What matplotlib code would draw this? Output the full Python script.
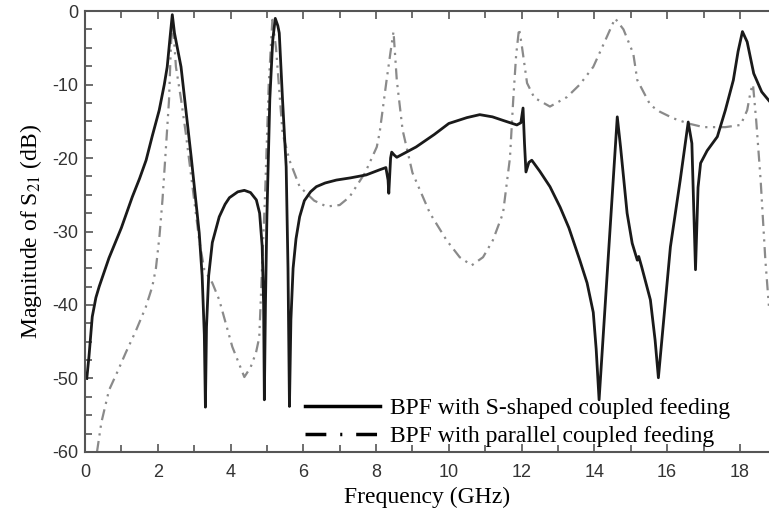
import matplotlib
matplotlib.use('Agg')
import matplotlib.pyplot as plt
from matplotlib.lines import Line2D
from matplotlib.ticker import MultipleLocator

# S-shaped coupled feeding (solid)
s_freq = [0.05, 0.11, 0.2, 0.3, 0.39, 0.66, 1.0, 1.3, 1.5, 1.68, 1.85, 2.04, 2.18, 2.26,
          2.34, 2.4, 2.46, 2.64, 2.92, 3.14, 3.22, 3.28, 3.31, 3.34, 3.4, 3.5, 3.69, 3.85,
          3.97, 4.2, 4.38, 4.55, 4.71, 4.8, 4.87, 4.91, 4.93, 4.96, 5.0, 5.08, 5.16, 5.23,
          5.3, 5.34, 5.43, 5.53, 5.58, 5.62, 5.66, 5.72, 5.8, 5.9, 6.03, 6.2, 6.36, 6.6,
          6.91, 7.3, 7.73, 8.1, 8.27, 8.33, 8.35, 8.4, 8.43, 8.5, 8.57, 9.1, 9.6, 10.0, 10.5,
          10.85, 11.2, 11.5, 11.87, 11.98, 12.04, 12.08, 12.12, 12.2, 12.28, 12.5, 12.78,
          13.06, 13.3, 13.6, 13.8, 13.97, 14.05, 14.13, 14.63, 14.72, 14.9, 15.04, 15.18,
          15.22, 15.3, 15.54, 15.67, 15.76, 16.09, 16.36, 16.58, 16.68, 16.78, 16.85, 16.92,
          17.1, 17.38, 17.6, 17.82, 17.95, 18.07, 18.2, 18.38, 18.6, 18.8]
s_db = [-50.0, -47.0, -41.6, -39.0, -37.5, -33.6, -29.5, -25.3, -22.8, -20.3, -17.0, -13.5,
        -10.0, -7.6, -3.5, -0.5, -3.0, -7.6, -19.9, -30.2, -36.0, -44.0, -53.9, -43.0, -36.0,
        -31.5, -28.0, -26.3, -25.4, -24.6, -24.4, -24.7, -25.7, -27.5, -32.0, -40.0, -52.9,
        -40.0, -28.0, -12.0, -4.0, -1.0, -2.0, -3.0, -12.1, -21.2, -35.0, -53.8, -42.0,
        -35.0, -31.0, -28.0, -25.8, -24.6, -23.9, -23.4, -23.0, -22.7, -22.3, -21.6, -21.3,
        -23.0, -24.8, -20.0, -19.2, -19.6, -19.9, -18.5, -16.8, -15.3, -14.5, -14.1, -14.4,
        -14.9, -15.5, -15.2, -13.2, -18.0, -21.9, -20.6, -20.3, -21.8, -23.9, -26.7, -29.5,
        -33.9, -37.0, -41.0, -46.0, -52.9, -14.4, -18.5, -27.5, -31.6, -33.9, -33.4, -34.8,
        -39.3, -44.8, -49.9, -32.1, -23.0, -15.1, -18.0, -35.2, -24.0, -20.7, -19.0, -17.1,
        -13.5, -9.4, -5.5, -2.8, -4.2, -8.5, -11.0, -12.2]

# parallel coupled feeding (dash-dot)
p_freq = [0.33, 0.45, 0.66, 0.9, 1.12, 1.4, 1.67, 1.85, 1.95, 2.05, 2.13, 2.22, 2.31, 2.36,
          2.4, 2.45, 2.5, 2.64, 2.77, 3.14, 3.28, 3.5, 3.69, 4.05, 4.38, 4.55, 4.7, 4.79,
          4.85, 4.95, 5.05, 5.15, 5.25, 5.43, 5.62, 5.9, 6.3, 6.64, 7.0, 7.27, 7.7, 8.02,
          8.1, 8.29, 8.4, 8.48, 8.57, 8.73, 9.0, 9.48, 9.94, 10.3, 10.63, 10.94, 11.21, 11.49,
          11.68, 11.77, 11.85, 11.93, 12.0, 12.15, 12.35, 12.78, 13.25, 13.6, 13.97, 14.3,
          14.57, 14.8, 15.07, 15.18, 15.54, 15.8, 16.17, 16.58, 17.0, 17.6, 18.02, 18.2,
          18.3, 18.36, 18.45, 18.57, 18.7, 18.8]
p_db = [-60.0, -56.0, -51.6, -49.0, -46.5, -43.5, -40.3, -37.5, -35.0, -30.5, -25.7, -19.0,
        -12.1, -5.0, -1.2, -4.0, -7.6, -12.0, -16.6, -31.2, -35.2, -37.0, -39.3, -45.7, -49.8,
        -48.5, -46.5, -44.4, -37.0, -25.0, -10.0, -1.2, -5.0, -16.6, -20.3, -23.9, -25.8,
        -26.6, -26.4, -25.3, -22.0, -18.5, -16.5, -9.4, -5.5, -2.8, -9.4, -16.2, -22.0,
        -27.5, -31.2, -33.5, -34.6, -33.5, -31.2, -27.5, -20.0, -12.1, -6.0, -2.4, -4.5,
        -9.8, -11.8, -13.0, -11.7, -10.0, -7.6, -4.0, -1.0, -2.5, -5.8, -9.4, -12.8, -13.7,
        -14.6, -15.3, -15.8, -15.8, -15.5, -13.5, -10.8, -10.0, -15.0, -23.0, -33.9, -40.3]

plt.rcParams['font.family'] = ['Liberation Serif', 'DejaVu Serif']
plt.rcParams['mathtext.fontset'] = 'stix'
plt.rcParams['axes.unicode_minus'] = False

fig = plt.figure(figsize=(7.69, 5.2), dpi=100)
ax = fig.add_axes([0.1105, 0.1308, 0.8895, 0.848])

ax.plot(p_freq, p_db, color='#8a8a8a', lw=1.6, linestyle=(0, (5, 2.5, 1, 2.5, 1, 2.5)))
ax.plot(s_freq, s_db, color='#1a1a1a', lw=2.0)

ax.set_xlim(0, 18.8)
ax.set_ylim(-60, 0)
ax.xaxis.set_major_locator(MultipleLocator(2))
ax.xaxis.set_minor_locator(MultipleLocator(1))
ax.yaxis.set_major_locator(MultipleLocator(10))
ax.yaxis.set_minor_locator(MultipleLocator(2.5))

for side in ['left', 'bottom', 'top']:
    ax.spines[side].set_color('#555555')
    ax.spines[side].set_linewidth(1.5)
ax.spines['right'].set_visible(False)

ax.tick_params(which='both', direction='in', top=True, right=False, color='#555555', width=1.2)
ax.tick_params(which='major', length=6)
ax.tick_params(which='minor', length=5)
for lab in ax.get_xticklabels() + ax.get_yticklabels():
    lab.set_family('Liberation Sans')
    lab.set_fontsize(13)
    lab.set_color('#333333')
ax.tick_params(axis='x', pad=9)
ax.tick_params(axis='y', pad=5)

ax.set_xlabel('Frequency (GHz)', fontsize=17, labelpad=4)
ax.set_ylabel('Magnitude of S$_{21}$ (dB)', fontsize=17, labelpad=6)

handles = [Line2D([], [], color='black', lw=2.5),
           Line2D([], [], color='black', lw=2.5, dash_capstyle='butt',
                  linestyle=(0, (6, 4, 0.6, 4)))]
ax.legend(handles, ['BPF with S-shaped coupled feeding', 'BPF with parallel coupled feeding'],
          loc='lower left', bbox_to_anchor=(0.3075, -0.0105), frameon=False, fontsize=17,
          handlelength=3.2, handletextpad=0.4, labelspacing=0.27, borderaxespad=0.0)

fig.savefig('out.png', dpi=100)
